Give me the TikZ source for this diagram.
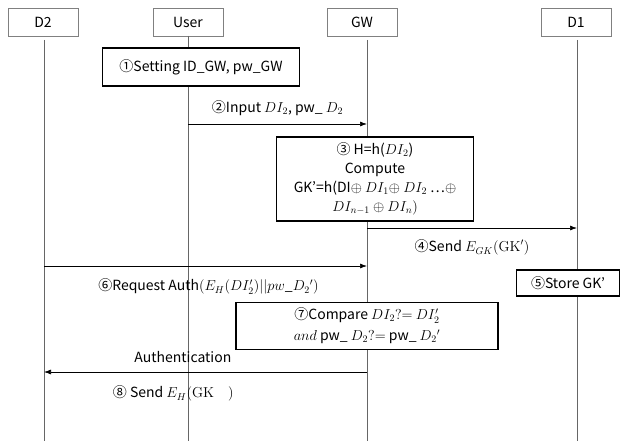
\documentclass[tikz,border=0pt]{standalone}
\usepackage[no-math]{fontspec}
\setmainfont{Noto Sans CJK KR}
\usetikzlibrary{arrows.meta}

\begin{document}
\begin{tikzpicture}[x=1pt,y=-1pt]
\tikzstyle{actor}=[draw=gray,fill=white,minimum width=70pt,minimum height=28pt,inner sep=0pt]
\tikzstyle{life}=[draw=black!60,line width=0.7pt]
\tikzstyle{action}=[draw,line width=1.1pt,fill=white,align=center,inner sep=0pt]
\tikzstyle{msg}=[-{Latex[length=7pt,width=5pt]},line width=0.7pt]
\useasboundingbox (0,0) rectangle (621,441);
\fontsize{14}{19}\selectfont
% ========= actors
\node (d2) at (43,22) [actor] {D2};
\node (user) at (188,22) [actor] {User};
\node (gw) at (362,22) [actor] {GW};
\node (d1) at (576,22) [actor] {D1};
% ====== lifelines
\coordinate (bottom) at (0,441);
\coordinate (d2l) at (44,40);
\coordinate (userl) at (188,36);
\coordinate (gwl) at (367,40);
\coordinate (d1l) at (577,40);
\draw [life] (d2l) -- (d2l |- bottom);
\draw [life] (userl) -- (userl |- bottom);
\draw [life] (gwl) -- (gwl |- bottom);
\draw [life] (d1l) -- (d1l |- bottom);
% ========= steps
\node (setting) at (201,67) [action, minimum width=197pt, minimum height=38pt] {①Setting ID\_GW, pw\_GW};
\node (compute) at (375,179) [action, minimum width=197pt, minimum height=84pt]
  {③ H=h($DI_2$)\\Compute\\GK’=h(DI$\oplus$ $DI_1\oplus$ $DI_2$ …$\oplus$\\$DI_{n-1}\oplus DI_n)$};
\node (store) at (568,283) [action, minimum width=103pt, minimum height=26pt] {⑤Store GK’};
\node (compare) at (367,326) [action, minimum width=262pt, minimum height=47pt,
  font=\fontsize{14}{21}\selectfont]
  {⑦Compare $DI_2?{=}$ $DI'_2$\\$and$ pw\_ $D_2?{=}$ pw\_ $D_2{}'$};
% ====== messages
\coordinate (m2) at (0,124);
\draw [msg] (userl |- m2) -- node [above=3pt] {②Input $DI_2$, pw\_ $D_2$} (gwl |- m2);
\coordinate (m4) at (0,228);
\draw [msg] (gwl |- m4) -- node [below=7pt] {④Send $E_{GK}(\mathrm{GK}')$} (d1l |- m4);
\coordinate (m6) at (0,266);
\draw [msg] (d2l |- m6) -- node [below=8pt, xshift=3pt] {⑥Request Auth$(E_H(DI'_2)||pw\_D_2{}')$} (gwl |- m6);
\coordinate (m8) at (0,372);
\draw [msg] (gwl |- m8) -- node [pos=0.57, above=4pt] {Authentication}
  node [pos=0.6, below=9pt] {⑧ Send $E_H(\mathrm{GK}\quad)$} (d2l |- m8);
\end{tikzpicture}
\end{document}
